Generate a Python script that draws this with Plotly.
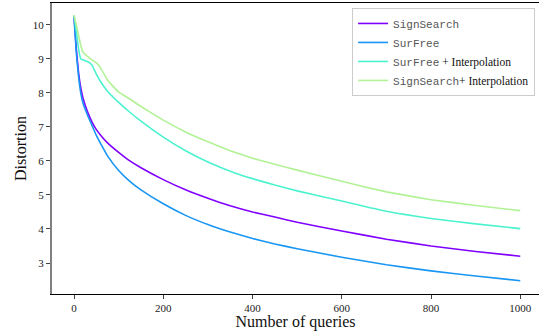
import plotly.graph_objects as go

queries = [0, 5, 10, 15, 20, 30, 40, 50, 60, 75, 100, 125, 150, 200, 250, 300, 350, 400, 450, 500, 600, 700, 800, 900, 1000]

signsearch = [10.25, 9.3, 8.6, 8.15, 7.85, 7.45, 7.15, 6.92, 6.75, 6.53, 6.25, 6.0, 5.8, 5.45, 5.15, 4.9, 4.68, 4.5, 4.35, 4.2, 3.94, 3.7, 3.5, 3.34, 3.2]
surfree = [10.25, 9.2, 8.5, 8.0, 7.7, 7.35, 7.05, 6.75, 6.5, 6.15, 5.72, 5.4, 5.15, 4.74, 4.4, 4.13, 3.91, 3.72, 3.56, 3.42, 3.17, 2.95, 2.77, 2.62, 2.48]
surfree_interp = [10.28, 9.8, 9.3, 9.0, 8.97, 8.92, 8.82, 8.55, 8.32, 8.05, 7.72, 7.43, 7.17, 6.7, 6.3, 5.97, 5.7, 5.48, 5.29, 5.12, 4.82, 4.52, 4.31, 4.15, 4.01]
signsearch_interp = [10.28, 10.0, 9.7, 9.4, 9.2, 9.07, 8.97, 8.88, 8.72, 8.38, 8.02, 7.82, 7.6, 7.2, 6.85, 6.56, 6.3, 6.08, 5.9, 5.73, 5.4, 5.09, 4.86, 4.69, 4.54]

x_ticks = [0, 200, 400, 600, 800, 1000]
y_ticks = [3, 4, 5, 6, 7, 8, 9, 10]

MONO = "Liberation Mono"
SERIF = "Liberation Serif"

def mono(s):
    return f"<span style='font-family:{MONO};font-size:11px;color:#555'>{s}</span>"

series = [
    (mono("SignSearch"), signsearch, "#8000ff"),
    (mono("SurFree"), surfree, "#1996f3"),
    (mono("SurFree") + " + Interpolation", surfree_interp, "#4cf2ce"),
    (mono("SignSearch") + "+ Interpolation", signsearch_interp, "#b2f296"),
]

fig = go.Figure()
for name, ys, color in series:
    fig.add_trace(go.Scatter(x=queries, y=ys, mode="lines", name=name,
                             line=dict(color=color, width=1.6, shape="spline", smoothing=0.3)))

fig.update_layout(
    width=539, height=331,
    margin=dict(l=52, r=0, t=3, b=37),
    plot_bgcolor="white", paper_bgcolor="white",
    font=dict(family=SERIF, size=11, color="#222"),
    legend=dict(x=0.992, y=0.983, xanchor="right", yanchor="top",
                bgcolor="white", bordercolor="#cccccc", borderwidth=1,
                font=dict(family=SERIF, size=11.5, color="#111"),
                tracegroupgap=0, itemwidth=30),
    xaxis=dict(range=[-49.4, 1042], tickvals=x_ticks, ticks="outside", ticklen=4,
               showline=True, linecolor="black", linewidth=1, mirror=True,
               showgrid=False, zeroline=False,
               title=dict(text="Number of queries", font=dict(size=16, family=SERIF, color="#111"), standoff=0),
               tickfont=dict(size=11, family=SERIF, color="#222")),
    yaxis=dict(range=[2.09, 10.64], tickvals=y_ticks, ticks="outside", ticklen=4,
               showline=True, linecolor="#808080", linewidth=2,
               showgrid=False, zeroline=False,
               title=dict(text="Distortion", font=dict(size=16, family=SERIF, color="#111"), standoff=2),
               tickfont=dict(size=11, family=SERIF, color="#222")),
)

fig.write_html("out.html", config={"displayModeBar": False},
               post_script="document.body.style.margin='0';document.body.style.overflow='hidden';")
